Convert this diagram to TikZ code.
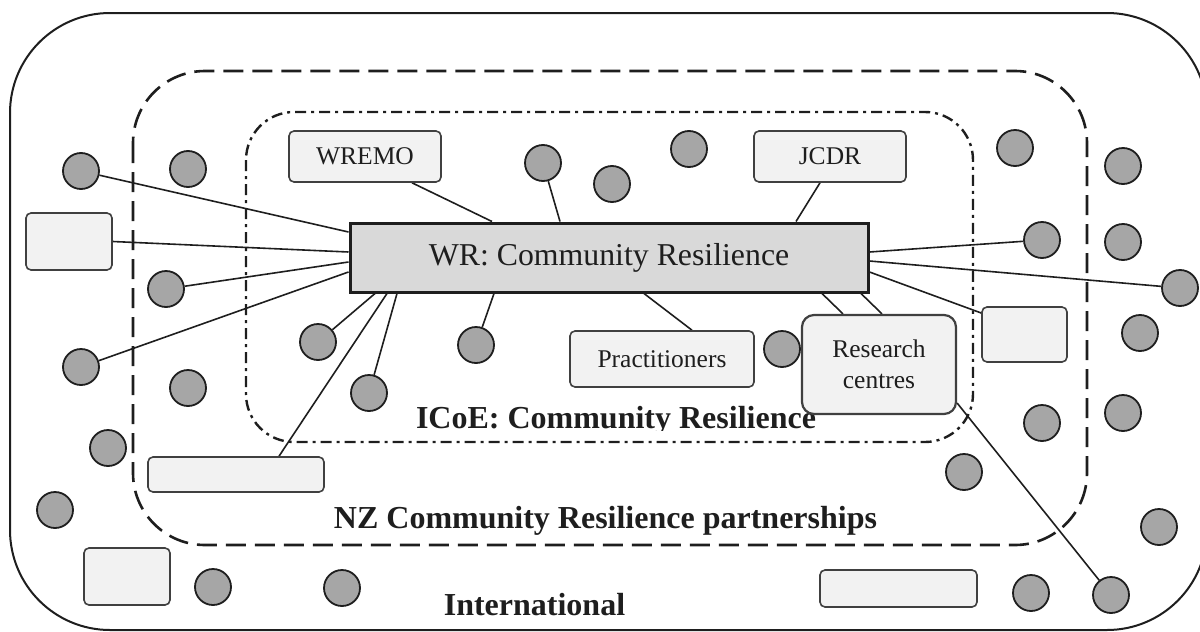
\documentclass[tikz,border=0pt]{standalone}
\usepackage{fontspec}
\setmainfont{Liberation Serif}
\usetikzlibrary{backgrounds}
\definecolor{dotgray}{HTML}{A6A6A6}
\definecolor{boxgray}{HTML}{F2F2F2}
\definecolor{wrgray}{HTML}{D9D9D9}
\definecolor{ink}{HTML}{1E1E1E}
\begin{document}
\begin{tikzpicture}[x=1pt,y=-1pt,
  dot/.style={circle,draw=ink,fill=dotgray,line width=1.8pt,minimum size=36pt,inner sep=0pt},
  orgbox/.style={draw=ink!85,fill=boxgray,rounded corners=5pt,line width=1.6pt,inner sep=0pt,
    text=ink,font=\fontsize{25.5}{31}\selectfont,align=center},
  link/.style={draw=ink,line width=1.6pt},
  region/.style={font=\bfseries\fontsize{32}{36}\selectfont,text=ink,anchor=base,inner sep=0pt}]
\useasboundingbox (0,0) rectangle (1200,632);

% labels of the regions
\begin{scope}
  \clip (0,0) rectangle (1200,430);
  \node[region] (icoe) at (616,428) {ICoE: Community Resilience};
\end{scope}
\node[region] (nz) at (605.5,528) {NZ Community Resilience partnerships};
\node[region] (intl) at (534.5,615) {International};

% central node
\node[draw=ink,fill=wrgray,line width=3pt,minimum width=518pt,minimum height=69pt,inner sep=0pt,
  text=ink,font=\fontsize{31.8}{36}\selectfont] (wr) at (609,257.5) {WR: Community Resilience};

% boxes
\node[orgbox,minimum width=152pt,minimum height=51pt] (wremo) at (365,156.5) {WREMO};
\node[orgbox,minimum width=152pt,minimum height=51pt] (jcdr) at (830,156.5) {JCDR};
\node[orgbox,minimum width=86pt,minimum height=57pt] (lbox) at (69,241.5) {};
\node[orgbox,minimum width=184pt,minimum height=56pt] (prac) at (662,359) {Practitioners};
\node[orgbox,minimum width=154pt,minimum height=99pt,rounded corners=12pt,line width=2.2pt] (rc) at (879,364.5) {Research\\centres};
\node[orgbox,minimum width=85pt,minimum height=55pt] (rbox) at (1024.5,334.5) {};
\node[orgbox,minimum width=176pt,minimum height=35pt] (blong) at (236,474.5) {};
\node[orgbox,minimum width=86pt,minimum height=57pt] (bsmall) at (127,576.5) {};
\node[orgbox,minimum width=157pt,minimum height=37pt] (brlong) at (898.5,588.5) {};

% circles
\node[dot] (cA) at (81,171) {};
\node[dot] (c2) at (188,169) {};
\node[dot] (cB) at (166,289) {};
\node[dot] (cD) at (543,163) {};
\node[dot] (c5) at (612,184) {};
\node[dot] (c6) at (689,149) {};
\node[dot] (c7) at (1015,148) {};
\node[dot] (c8) at (1123,166) {};
\node[dot] (cE) at (1042,240) {};
\node[dot] (c10) at (1123,242) {};
\node[dot] (cF) at (1180,288) {};
\node[dot] (c12) at (1140,333) {};
\node[dot] (cC) at (81,367) {};
\node[dot] (c14) at (188,388) {};
\node[dot] (c15) at (108,448) {};
\node[dot] (c16) at (55,510) {};
\node[dot] (c17) at (213,587) {};
\node[dot] (c18) at (342,588) {};
\node[dot] (cH) at (318,342) {};
\node[dot] (cI) at (369,393) {};
\node[dot] (cG) at (476,345) {};
\node[dot] (c22) at (782,349) {};
\node[dot] (c23) at (1123,413) {};
\node[dot] (c24) at (1042,423) {};
\node[dot] (c25) at (964,472) {};
\node[dot] (c26) at (1159,527) {};
\node[dot] (c27) at (1031,593) {};
\node[dot] (cJ) at (1111,595) {};

\begin{pgfonlayer}{background}
  % nested regions
  \draw[ink,line width=2pt,rounded corners=100pt] (10,13) rectangle (1207,630);
  \draw[ink,line width=2.6pt,dash pattern=on 20pt off 9pt,rounded corners=72pt] (133,71) rectangle (1087,545);
  \draw[ink,line width=2.4pt,dash pattern=on 11pt off 5pt on 3pt off 5pt,rounded corners=48pt] (246,112) rectangle (973,442);
  % connectors
  \draw[link] (cA) -- ([yshift=25.5pt]wr.west);
  \draw[link] (lbox.east) -- ([yshift=5.5pt]wr.west);
  \draw[link] (cB) -- ([yshift=-4.5pt]wr.west);
  \draw[link] (cC) -- ([yshift=-14.5pt]wr.west);
  \draw[link] ([xshift=47pt]wremo.south) -- ([xshift=-117pt]wr.north);
  \draw[link] (cD) -- ([xshift=-49pt]wr.north);
  \draw[link] ([xshift=-10pt]jcdr.south) -- ([xshift=187pt]wr.north);
  \draw[link] ([yshift=5.5pt]wr.east) -- (cE);
  \draw[link] ([yshift=-3.5pt]wr.east) -- (cF);
  \draw[link] ([yshift=-14.5pt]wr.east) -- ([yshift=21.5pt]rbox.west);
  \draw[link] ([xshift=213pt]wr.south) -- ([xshift=-36pt]rc.north);
  \draw[link] ([xshift=252pt]wr.south) -- ([xshift=3pt]rc.north);
  \draw[link] ([xshift=35pt]wr.south) -- ([xshift=30pt]prac.north);
  \draw[link] ([xshift=-115pt]wr.south) -- (cG);
  \draw[link] ([xshift=-234pt]wr.south) -- (cH);
  \draw[link] ([xshift=-222pt]wr.south) -- ([xshift=43pt]blong.north);
  \draw[link] ([xshift=-212pt]wr.south) -- (cI);
  \draw[link] ([yshift=-38.5pt]rc.east) -- (cJ);
\end{pgfonlayer}
\end{tikzpicture}
\end{document}
